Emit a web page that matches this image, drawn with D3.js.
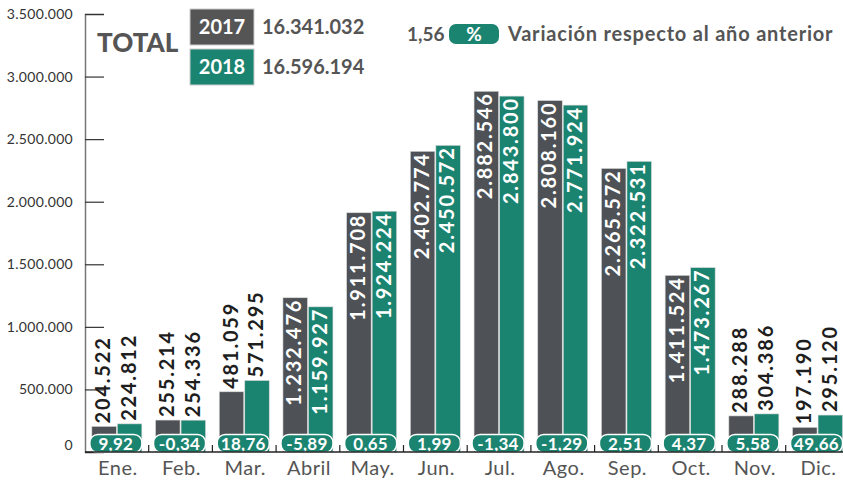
<!DOCTYPE html>
<html lang="es">
  <head>
    <meta charset="utf-8" />
    <title>Viajeros por mes 2017-2018</title>
    <script src="https://cdnjs.cloudflare.com/ajax/libs/d3/7.8.5/d3.min.js"></script>
    <style type="text/css">
      body { margin: 0; background: #fff; }
      text { font-family: Lato, "Open Sans", sans-serif; }
    </style>
  </head>

  <body>
    <div id="chart"></div>
    <script>
      const months = ['Ene.', 'Feb.', 'Mar.', 'Abril', 'May.', 'Jun.', 'Jul.', 'Ago.', 'Sep.', 'Oct.', 'Nov.', 'Dic.'];
      const years = ['2017', '2018'];
      const values2017 = [204522, 255214, 481059, 1232476, 1911708, 2402774, 2882546, 2808160, 2265572, 1411524, 288288, 197190];
      const values2018 = [224812, 254336, 571295, 1159927, 1924224, 2450572, 2843800, 2771924, 2322531, 1473267, 304386, 295120];
      const variation = ['9,92', '-0,34', '18,76', '-5,89', '0,65', '1,99', '-1,34', '-1,29', '2,51', '4,37', '5,58', '49,66'];
      const totals = ['16.341.032', '16.596.194'];
      const yTicks = [0, 500000, 1000000, 1500000, 2000000, 2500000, 3000000, 3500000];

      const colors = { '2017': '#4e5155', '2018': '#1b8470' };
      const grey = '#555';
      const fmt = v => d3.format(',')(v).replace(/,/g, '.');

      const width = 843, height = 480;
      const svg = d3.select('#chart')
        .append('svg')
        .attr('width', width)
        .attr('height', height);

      const y = d3.scaleLinear()
        .domain([0, 3500000])
        .range([452, 14]);

      const x0 = d3.scaleBand()
        .domain(months)
        .range([85, 849.4]);

      const x1 = d3.scaleBand()
        .domain(years)
        .range([0, 50])
        .paddingInner(0.04);

      const data = months.map((m, i) => ({
        month: m,
        bars: [
          { year: '2017', value: values2017[i] },
          { year: '2018', value: values2018[i] },
        ],
        variation: variation[i],
      }));

      // eje y
      const yAxis = svg.append('g')
        .attr('transform', 'translate(85,0)')
        .call(d3.axisRight(y)
          .tickValues(yTicks)
          .tickSize(19)
          .tickFormat(fmt));
      yAxis.select('.domain').attr('stroke', '#777').attr('stroke-width', 1.5);
      yAxis.selectAll('.tick line').attr('stroke', '#333').attr('stroke-width', 1.2);
      yAxis.selectAll('.tick text')
        .attr('x', -12)
        .attr('text-anchor', 'end')
        .attr('fill', '#333')
        .style('font-size', '14px')
        .style('letter-spacing', '0.3px')
        .attr('dy', d => d === 0 ? '-0.15em' : '0.32em');

      // barras
      const groups = svg.append('g')
        .selectAll('g')
        .data(data)
        .join('g')
        .attr('transform', d => `translate(${x0(d.month) + (x0.bandwidth() - 50) / 2},0)`);

      groups.selectAll('rect')
        .data(d => d.bars)
        .join('rect')
        .attr('x', d => x1(d.year))
        .attr('y', d => y(d.value))
        .attr('width', x1.bandwidth())
        .attr('height', d => y(0) - y(d.value))
        .attr('fill', d => colors[d.year])
        .attr('stroke', '#d8d8d8')
        .attr('stroke-width', 0.6);

      const inside = d => d.value > 1000000;

      groups.selectAll('text.val')
        .data(d => d.bars)
        .join('text')
        .attr('class', 'val')
        .attr('transform', d => {
          const ty = inside(d) ? y(d.value) + 1 : y(d.value) - 3;
          return `translate(${x1(d.year) + x1.bandwidth() / 2 - 1},${ty}) rotate(-90)`;
        })
        .attr('text-anchor', d => inside(d) ? 'end' : 'start')
        .attr('dy', '0.36em')
        .attr('fill', d => inside(d) ? '#fff' : '#1e1e1e')
        .style('font-size', '20px')
        .style('font-weight', 700)
        .style('letter-spacing', '1.8px')
        .text(d => fmt(d.value));

      // eje x
      svg.append('line')
        .attr('x1', 85).attr('x2', width)
        .attr('y1', y(0)).attr('y2', y(0))
        .attr('stroke', '#222').attr('stroke-width', 1.5);

      svg.append('g')
        .selectAll('line')
        .data(months.slice(1))
        .join('line')
        .attr('x1', d => x0(d)).attr('x2', d => x0(d))
        .attr('y1', y(0)).attr('y2', y(0) - 7)
        .attr('stroke', '#222').attr('stroke-width', 1.2);

      // variación
      groups.append('rect')
        .attr('x', -2)
        .attr('y', 434.5)
        .attr('width', 52)
        .attr('height', 18)
        .attr('rx', 8)
        .attr('fill', colors['2018'])
        .attr('stroke', '#fff')
        .attr('stroke-width', 1.5);

      groups.append('text')
        .attr('x', 24)
        .attr('y', 443.5)
        .attr('dy', '0.36em')
        .attr('text-anchor', 'middle')
        .attr('fill', '#fff')
        .style('font-size', '17px')
        .style('font-weight', 700)
        .style('letter-spacing', '0.3px')
        .text(d => d.variation);

      groups.append('text')
        .attr('x', 26)
        .attr('y', 468)
        .attr('dy', '0.36em')
        .attr('text-anchor', 'middle')
        .attr('fill', grey)
        .style('font-size', '20px')
        .style('font-weight', 400)
        .style('letter-spacing', '0.5px')
        .text(d => d.month);

      // leyenda
      svg.append('text')
        .attr('x', 97).attr('y', 52)
        .attr('fill', grey)
        .style('font-size', '26px')
        .style('font-weight', 900)
        .text('TOTAL');

      const legend = svg.append('g')
        .selectAll('g')
        .data(years)
        .join('g')
        .attr('transform', (d, i) => `translate(190,${9 + i * 40})`);

      legend.append('rect')
        .attr('width', 64).attr('height', 36)
        .attr('fill', d => d === '2017' ? '#555' : colors['2018'])
        .attr('stroke', '#ccc');

      legend.append('text')
        .attr('x', 32).attr('y', 18).attr('dy', '0.36em')
        .attr('text-anchor', 'middle')
        .attr('fill', '#fff')
        .style('font-size', '20px')
        .style('font-weight', 700)
        .text(d => d);

      legend.append('text')
        .attr('x', 72).attr('y', 18).attr('dy', '0.36em')
        .attr('fill', grey)
        .style('font-size', '20px')
        .style('font-weight', 700)
        .text((d, i) => totals[i]);

      const note = svg.append('g');
      note.append('text')
        .attr('x', 407).attr('y', 34).attr('dy', '0.36em')
        .attr('fill', grey)
        .style('font-size', '19px')
        .style('font-weight', 700)
        .text('1,56');
      note.append('rect')
        .attr('x', 449).attr('y', 24)
        .attr('width', 50).attr('height', 20)
        .attr('rx', 7)
        .attr('fill', colors['2018']);
      note.append('text')
        .attr('x', 474).attr('y', 34).attr('dy', '0.36em')
        .attr('text-anchor', 'middle')
        .attr('fill', '#fff')
        .style('font-size', '19px')
        .style('font-weight', 700)
        .text('%');
      note.append('text')
        .attr('x', 508).attr('y', 34).attr('dy', '0.36em')
        .attr('fill', grey)
        .style('font-size', '20px')
        .style('font-weight', 700)
        .style('letter-spacing', '0.8px')
        .text('Variación respecto al año anterior');
    </script>
  </body>
</html>
